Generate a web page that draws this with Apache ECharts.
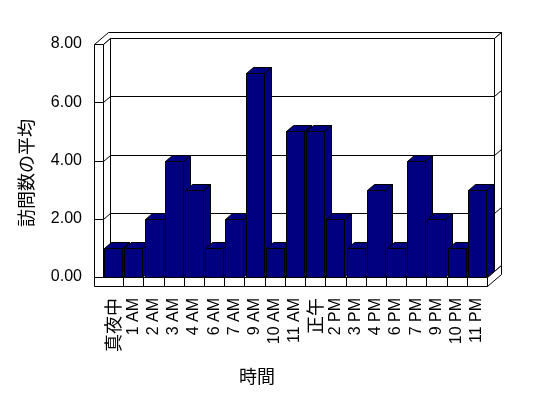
<!DOCTYPE html>
<html>
<head>
<meta charset="utf-8">
<script src="https://cdn.jsdelivr.net/npm/echarts@6/dist/echarts.min.js"></script>
<style>
  html, body { margin: 0; padding: 0; background: #fff; }
  #chart { width: 548px; height: 398px; }
</style>
</head>
<body>
<div id="chart"></div>
<script>
// 時間帯ごとの訪問数の平均
const categories = ['真夜中', '1 AM', '2 AM', '3 AM', '4 AM', '6 AM', '7 AM', '9 AM', '10 AM', '11 AM',
  '正午', '2 PM', '3 PM', '4 PM', '6 PM', '7 PM', '9 PM', '10 PM', '11 PM'];
const visits = [1, 1, 2, 4, 3, 1, 2, 7, 1, 5, 5, 2, 1, 3, 1, 4, 2, 1, 3];
const yTicks = [0, 2, 4, 6, 8];

const DX = 7, DY = -6;   // 奥行き
const WALL = 9;          // 壁・床の厚さ
const BAR_W = 18;
const NAVY = '#000080';

const p = v => Math.round(v) + 0.5;

function poly(points, fill) {
  return {
    type: 'polygon',
    shape: { points: points.map(pt => [p(pt[0]), p(pt[1])]) },
    style: { fill: fill || '#fff', stroke: '#000', lineWidth: 1 }
  };
}
function seg(x1, y1, x2, y2) {
  return {
    type: 'line',
    shape: { x1: p(x1), y1: p(y1), x2: p(x2), y2: p(y2) },
    style: { stroke: '#000', lineWidth: 1 }
  };
}

// 壁と床
function renderWalls(params, api) {
  const cs = params.coordSys;
  const x0 = cs.x, x1 = cs.x + cs.width;
  const yT = api.coord([0, yTicks[yTicks.length - 1]])[1];
  const yB = api.coord([0, 0])[1];
  const kids = [];
  // 上面
  kids.push(poly([[x0 - WALL, yT], [x0, yT], [x0 + DX, yT + DY], [x1 + DX, yT + DY],
    [x1 + 2 * DX, yT + 2 * DY], [x0 - WALL + 2 * DX, yT + 2 * DY]]));
  // 奥の壁の右側面
  kids.push(poly([[x1 + DX, yT + DY], [x1 + 2 * DX, yT + 2 * DY], [x1 + 2 * DX, yB + 2 * DY], [x1 + DX, yB + DY]]));
  // 床の右側面
  kids.push(poly([[x1, yB], [x1 + 2 * DX, yB + 2 * DY], [x1 + 2 * DX, yB + WALL + 2 * DY], [x1, yB + WALL]]));
  // 奥の壁
  kids.push(poly([[x0 + DX, yT + DY], [x1 + DX, yT + DY], [x1 + DX, yB + DY], [x0 + DX, yB + DY]]));
  // 床の上面
  kids.push(poly([[x0, yB], [x1, yB], [x1 + DX, yB + DY], [x0 + DX, yB + DY]]));
  // 左の壁の内側
  kids.push(poly([[x0, yT], [x0 + DX, yT + DY], [x0 + DX, yB + DY], [x0, yB]]));
  // 左の壁の前面
  kids.push(poly([[x0 - WALL, yT], [x0, yT], [x0, yB], [x0 - WALL, yB]]));
  // 床の前面
  kids.push(poly([[x0 - WALL, yB], [x1, yB], [x1, yB + WALL], [x0 - WALL, yB + WALL]]));
  // 目盛線
  yTicks.slice(1, -1).forEach(v => {
    const y = api.coord([0, v])[1];
    kids.push(seg(x0 - WALL, y, x0, y));
    kids.push(seg(x0, y, x0 + DX, y + DY));
    kids.push(seg(x0 + DX, y + DY, x1 + DX, y + DY));
    kids.push(seg(x1 + DX, y + DY, x1 + 2 * DX, y + 2 * DY));
  });
  // 床の前面の区切り
  const step = cs.width / categories.length;
  for (let i = 1; i < categories.length; i++) {
    const x = x0 + step * i;
    kids.push(seg(x, yB, x, yB + WALL));
  }
  return { type: 'group', children: kids };
}

// 立体の棒
function renderBar(params, api) {
  const c0 = api.coord([api.value(0), 0]);
  const c1 = api.coord([api.value(0), api.value(1)]);
  const l = c0[0] - BAR_W / 2, r = c0[0] + BAR_W / 2;
  const yt = c1[1], yb = c0[1];
  return {
    type: 'group',
    children: [
      poly([[r, yt], [r + DX, yt + DY], [r + DX, yb + DY], [r, yb]], NAVY),
      poly([[l, yt], [r, yt], [r + DX, yt + DY], [l + DX, yt + DY]], NAVY),
      poly([[l, yt], [r, yt], [r, yb], [l, yb]], NAVY)
    ]
  };
}

const chart = echarts.init(document.getElementById('chart'), null, { renderer: 'canvas' });
const option = {
  animation: false,
  backgroundColor: '#fff',
  grid: { left: 103, top: 44, width: 384, height: 233 },
  xAxis: {
    type: 'category',
    data: categories,
    axisLine: { show: false },
    axisTick: { show: false },
    axisLabel: {
      rotate: 90,
      margin: 21,
      interval: 0,
      color: '#000',
      fontSize: 16,
      fontFamily: 'Liberation Sans, Arial, sans-serif',
      formatter: v => /^[\x00-\x7f]*$/.test(v) ? v : '{cjk|' + v + '}',
      rich: {
        cjk: { fontSize: 18, fontFamily: 'Noto Sans CJK JP', color: '#000' }
      }
    }
  },
  yAxis: {
    type: 'value',
    min: 0,
    max: 8,
    interval: 2,
    axisLine: { show: false },
    axisTick: { show: false },
    splitLine: { show: false },
    axisLabel: {
      margin: 21,
      color: '#000',
      fontSize: 16,
      fontFamily: 'Liberation Sans, Arial, sans-serif',
      formatter: v => v.toFixed(2)
    }
  },
  graphic: [
    {
      type: 'text',
      x: 26, y: 173,
      rotation: Math.PI / 2,
      style: {
        text: '訪問数の平均',
        font: '18px "Noto Sans CJK JP"',
        fill: '#000',
        align: 'center',
        verticalAlign: 'middle'
      }
    },
    {
      type: 'text',
      x: 257, y: 376,
      style: {
        text: '時間',
        font: '18px "Noto Sans CJK JP"',
        fill: '#000',
        align: 'center',
        verticalAlign: 'middle'
      }
    }
  ],
  series: [
    {
      type: 'custom',
      z: 1,
      silent: true,
      renderItem: renderWalls,
      data: [[0, 0]]
    },
    {
      type: 'custom',
      z: 2,
      renderItem: renderBar,
      data: visits.map((v, i) => [i, v])
    }
  ]
};
chart.setOption(option);
</script>
</body>
</html>
